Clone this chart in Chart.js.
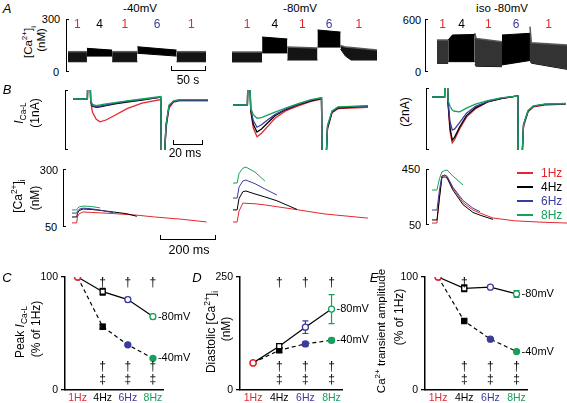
<!DOCTYPE html>
<html>
<head>
<meta charset="utf-8">
<script src="https://cdn.jsdelivr.net/npm/chart.js@4.4.1/dist/chart.umd.min.js"></script>
<style>
  body { margin: 0; width: 567px; height: 403px; position: relative; overflow: hidden; background: #fff;
         font-family: 'Liberation Sans', Arial, sans-serif; }
  canvas { position: absolute; }
  .t { position: absolute; white-space: nowrap; line-height: 1; color: #000; }
  .t sup, .t sub { font-size: 70%; line-height: 0; }
  .br { position: absolute; border: 1.4px solid #000; border-right: none; width: 3px; box-sizing: border-box; }
  .sb { position: absolute; border: 1.2px solid #000; border-top: none; height: 5px; box-sizing: border-box; }
  .lg { position: absolute; height: 2px; width: 16px; }
</style>
</head>
<body>
<script>
// colours used for pacing rates
const RED = '#e3272c', BLACK = '#000', BLUE = '#3b3b9d', GREEN = '#17a05b';
const rateColor = { 1: RED, 4: BLACK, 6: BLUE, 8: GREEN };
const FONT = "'Liberation Sans', Arial, sans-serif";

// ---- A: [Ca2+]i during pacing trains (one entry per segment, nM) ----
const a40Rate = [1, 4, 1, 6, 1];
const a40Time = [[0, 27], [27, 63], [63, 99], [99, 155], [155, 197]];
const a40Sys = [[115, 115], [134, 124], [115, 115], [143, 124], [115, 115]];
const a40Dia = [[58, 58], [90, 90], [58, 58], [106, 90], [58, 58]];

const a80Rate = [1, 4, 1, 6, 1];
const a80Time = [[0, 43], [43, 79], [79, 122], [122, 155], [155, 162, 170, 207]];
const a80Sys = [[113, 113], [198, 187], [141, 136], [238, 226], [150, 141, 138, 124]];
const a80Dia = [[57, 57], [108, 108], [68, 68], [141, 141], [130, 90, 68, 68]];

const aIsoRate = [1, 4, 1, 6, 1];
const aIsoTime = [[0, 16], [16, 22, 54], [54, 56, 93], [93, 133], [133, 135, 186]];
const aIsoSys = [[362, 362], [362, 419, 425], [440, 380, 343], [419, 438], [513, 330, 306]];
const aIsoDia = [[98, 98], [117, 117, 117], [79, 65, 60], [80, 130], [136, 100, 30]];

// ---- B: L-type Ca current (nA) ----
const cur40Time = [0, 9.6, 10, 11.2, 11.8, 13, 15.5, 18, 22, 28, 36, 46, 58.5, 59, 60.5, 62, 64, 67, 71, 90];
const cur40Hz1 = [0, 0, 0.5, 0.5, -0.05, -0.22, -0.34, -0.38, -0.35, -0.27, -0.16, -0.07, -0.01, -1.2, -1.2, -0.5, -0.15, -0.05, -0.03, -0.03];
const cur40Hz4 = [0, 0, 0.5, 0.5, -0.04, -0.12, -0.14, -0.13, -0.11, -0.08, -0.05, -0.02, 0.03, -1.2, -1.2, -0.45, -0.12, -0.04, -0.02, -0.02];
const cur40Hz6 = [0, 0, 0.5, 0.5, -0.04, -0.11, -0.13, -0.12, -0.1, -0.07, -0.04, -0.01, 0.03, -1.2, -1.2, -0.45, -0.12, -0.04, -0.02, -0.02];
const cur40Hz8 = [0, 0, 0.5, 0.5, -0.03, -0.09, -0.11, -0.1, -0.08, -0.06, -0.03, 0, 0.04, -1.2, -1.2, -0.42, -0.1, -0.03, -0.01, -0.01];

const cur80Time = [0, 9.6, 10, 11.2, 11.8, 13.5, 16, 19, 23, 28, 35, 43, 52, 59, 59.5, 61.5, 63, 66, 70, 90];
const cur80Hz1 = [0, 0, 0.5, 0.5, -0.1, -0.38, -0.53, -0.47, -0.36, -0.22, -0.1, -0.02, 0.06, 0.1, -1.2, -1.2, -0.4, -0.13, -0.06, -0.04];
const cur80Hz4 = [0, 0, 0.5, 0.5, -0.08, -0.32, -0.45, -0.4, -0.3, -0.18, -0.08, 0, 0.07, 0.11, -1.2, -1.2, -0.38, -0.12, -0.05, -0.02];
const cur80Hz6 = [0, 0, 0.5, 0.5, -0.07, -0.26, -0.37, -0.33, -0.25, -0.16, -0.07, 0.01, 0.08, 0.12, -1.2, -1.2, -0.36, -0.11, -0.04, -0.02];
const cur80Hz8 = [0, 0, 0.5, 0.5, -0.05, -0.16, -0.22, -0.21, -0.17, -0.12, -0.05, 0.02, 0.09, 0.12, -1.2, -1.2, -0.34, -0.1, -0.03, -0.01];

const curIsoTime = [0, 8.4, 8.7, 10, 10.7, 12, 13.5, 15, 18.5, 23, 29, 37, 46, 55, 57.2, 57.6, 59.5, 61, 64, 67.5, 75, 89];
const curIsoHz1 = [0, 0, 1, 1, -0.2, -1.1, -1.48, -1.38, -1.02, -0.65, -0.38, -0.16, -0.05, 0.02, 0.03, -2.5, -2.5, -0.95, -0.48, -0.32, -0.26, -0.23];
const curIsoHz4 = [0, 0, 1, 1, -0.2, -1.0, -1.39, -1.3, -0.96, -0.6, -0.35, -0.16, -0.05, 0.02, 0.03, -2.5, -2.5, -0.9, -0.46, -0.3, -0.24, -0.22];
const curIsoHz6 = [0, 0, 1, 1, -0.15, -0.8, -1.06, -1.04, -0.82, -0.52, -0.3, -0.15, -0.04, 0.02, 0.03, -2.5, -2.5, -0.9, -0.45, -0.3, -0.24, -0.22];
const curIsoHz8 = [0, 0, 1, 1, -0.1, -0.3, -0.42, -0.46, -0.48, -0.36, -0.23, -0.12, -0.03, 0.02, 0.03, -2.5, -2.5, -0.88, -0.44, -0.29, -0.23, -0.21];

// ---- B: Ca2+ transients (nM), shorter arrays stop earlier ----
const ca40Time = [0, 17, 20, 26, 40, 70, 102, 150, 200, 236, 300, 400, 490];
const ca40Hz1 = [68, 68, 95, 108, 116, 114, 112, 109, 105, 102, 94, 84, 72];
const ca40Hz4 = [94, 94, 110, 122, 129, 127, 123, 116, 108, 97];
const ca40Hz6 = [111, 111, 120, 128, 133, 130, 124, 113];
const ca40Hz8 = [125, 125, 132, 138, 142, 140, 134];

const ca80Time = [0, 15, 22, 36, 47, 80, 116, 160, 233, 335, 491];
const ca80Hz1 = [72, 72, 120, 155, 154, 152, 147, 139, 126, 107, 89];
const ca80Hz4 = [125, 125, 175, 205, 208, 195, 182, 165, 127];
const ca80Hz6 = [177, 177, 225, 252, 256, 240, 217, 190];
const ca80Hz8 = [243, 243, 285, 308, 313, 291, 252];

const caIsoTime = [0, 18, 27, 36, 47, 55, 76, 113, 149, 175, 222, 300, 400, 491];
const caIsoHz1 = [64, 64, 250, 400, 407, 395, 314, 210, 157, 135, 100, 80, 70, 64];
const caIsoHz4 = [86, 86, 240, 390, 395, 385, 300, 195, 140, 120, 90];
const caIsoHz6 = [157, 157, 300, 400, 407, 398, 320, 225, 170, 145];
const caIsoHz8 = [300, 300, 380, 430, 440, 443, 400, 336];

// ---- C, D, E: summary (mean, s.e.m.) ----
const freqLabels = ['1Hz', '4Hz', '6Hz', '8Hz'];
const freqColors = [RED, BLACK, BLUE, GREEN];
const peakICa80 = [100, 87, 80, 65];
const peakICa80Err = [0, 3, 2, 2];
const peakICa40 = [100, 56, 40, 28];
const peakICa40Err = [0, 2, 1, 1];
const diaCa80 = [60, 97, 139, 179];
const diaCa80Err = [0, 5, 14, 32];
const diaCa40 = [60, 88, 102, 110];
const diaCa40Err = [0, 5, 5, 5];
const ampCa80 = [100, 90, 91, 85];
const ampCa80Err = [0, 3, 1, 3];
const ampCa40 = [100, 61, 45, 34];
const ampCa40Err = [0, 1, 1, 1];

// ---------- helpers ----------
function addText(html, x, y, opt = {}) {
  const d = document.createElement('div');
  d.className = 't';
  d.innerHTML = html;
  d.style.left = x + 'px';
  d.style.top = y + 'px';
  d.style.fontSize = (opt.size || 12) + 'px';
  if (opt.color) d.style.color = opt.color;
  if (opt.italic) d.style.fontStyle = 'italic';
  d.style.transform = 'translate(-50%,-50%)' + (opt.rot ? ' rotate(-90deg)' : '');
  document.body.appendChild(d);
}

function bracket(x, y1, y2) {
  const d = document.createElement('div');
  d.className = 'br';
  Object.assign(d.style, { left: x + 'px', top: y1 + 'px', height: (y2 - y1) + 'px' });
  document.body.appendChild(d);
}

function scaleBar(x1, x2, y) {
  const d = document.createElement('div');
  d.className = 'sb';
  Object.assign(d.style, { left: x1 + 'px', top: (y - 5) + 'px', width: (x2 - x1) + 'px' });
  document.body.appendChild(d);
}

function makeCanvas(x, y, w, h) {
  const c = document.createElement('canvas');
  c.width = w; c.height = h;
  Object.assign(c.style, { left: x + 'px', top: y + 'px', width: w + 'px', height: h + 'px' });
  document.body.appendChild(c);
  return c;
}

const baseOpts = (xMax, yMin, yMax) => ({
  responsive: false,
  animation: false,
  devicePixelRatio: 1,
  layout: { padding: 0 },
  plugins: { legend: { display: false }, tooltip: { enabled: false } },
  elements: { point: { radius: 0 }, line: { tension: 0 } },
  scales: {
    x: { type: 'linear', min: 0, max: xMax, display: false },
    y: { type: 'linear', min: yMin, max: yMax, display: false }
  }
});

// pacing-train chart: a filled band per segment (diastolic to systolic), rate number above it.
function trainChart(box, xMax, yMax, rates, times, sys, dia, oneHzFill) {
  const canvas = makeCanvas(...box);
  const datasets = [];
  const line = (vals, i) => times[i].map((t, k) => ({ x: t, y: vals[k] }));
  rates.forEach((r, i) => {
    datasets.push({
      data: line(sys[i], i),
      borderColor: r === 1 ? '#5a5a5a' : '#000', borderWidth: r === 1 ? 1.5 : 1,
      backgroundColor: r === 1 ? oneHzFill : '#000', fill: '+1'
    });
    datasets.push({ data: line(dia[i], i), borderColor: '#000', borderWidth: 1, fill: false });
  });
  const rateLabels = {
    id: 'rateLabels',
    afterDraw(chart) {
      const c = chart.ctx, xs = chart.scales.x;
      c.save();
      c.font = '12px ' + FONT;
      c.textAlign = 'center';
      c.textBaseline = 'middle';
      rates.forEach((r, i) => {
        const t = times[i];
        c.fillStyle = rateColor[r];
        c.fillText(String(r), xs.getPixelForValue((t[0] + t[t.length - 1]) / 2), chart.chartArea.top + 6);
      });
      c.restore();
    }
  };
  return new Chart(canvas, { type: 'line', data: { datasets }, options: baseOpts(xMax, 0, yMax), plugins: [rateLabels] });
}

// overlaid traces, green drawn on top
function traceChart(box, xMax, yMin, yMax, time, series, width) {
  const datasets = series.map(([vals, color]) => ({
    data: vals.map((v, k) => ({ x: time[k], y: v })),
    borderColor: color, borderWidth: width, fill: false
  }));
  return new Chart(makeCanvas(...box), { type: 'line', data: { datasets }, options: baseOpts(xMax, yMin, yMax) });
}

// error bars drawn under the markers
const errorBars = {
  id: 'errorBars',
  beforeDatasetsDraw(chart) {
    const c = chart.ctx, ys = chart.scales.y;
    chart.data.datasets.forEach((ds, i) => {
      const meta = chart.getDatasetMeta(i);
      meta.data.forEach((pt, j) => {
        const e = ds.err[j];
        if (!e) return;
        const v = ds.data[j].y;
        const y1 = ys.getPixelForValue(v + e), y2 = ys.getPixelForValue(v - e);
        c.save();
        c.strokeStyle = freqColors[j];
        c.lineWidth = 1.2;
        c.beginPath();
        c.moveTo(pt.x, y1); c.lineTo(pt.x, y2);
        c.moveTo(pt.x - 3, y1); c.lineTo(pt.x + 3, y1);
        c.moveTo(pt.x - 3, y2); c.lineTo(pt.x + 3, y2);
        c.stroke();
        c.restore();
      });
    });
  }
};

function summaryMarks(topIdx, botIdx) {
  return {
    id: 'summaryMarks',
    afterDraw(chart) {
      const c = chart.ctx, xs = chart.scales.x, area = chart.chartArea;
      c.save();
      c.fillStyle = '#000';
      c.font = '12px ' + FONT;
      c.textAlign = 'center';
      c.textBaseline = 'middle';
      topIdx.forEach(i => c.fillText('\u2020', xs.getPixelForValue(i), area.top + 6));
      botIdx.forEach(i => {
        c.fillText('\u2020', xs.getPixelForValue(i), area.bottom - 23);
        c.fillText('\u2021', xs.getPixelForValue(i), area.bottom - 10);
      });
      c.font = '11px ' + FONT;
      c.textAlign = 'left';
      chart.data.datasets.forEach((ds, i) => {
        const pts = chart.getDatasetMeta(i).data;
        const last = pts[pts.length - 1];
        c.fillText(ds.label, last.x + 5, last.y);
      });
      c.restore();
    }
  };
}

function summaryChart(box, yWidth, padRight, yMax, s80, e80, s40, e40, styles, topIdx, botIdx) {
  const canvas = makeCanvas(...box);
  const pt = (arr) => arr.map((v, i) => ({ x: i, y: v }));
  const radii = styles.map(s => s === 'rect' ? 3.6 : 3);
  return new Chart(canvas, {
    type: 'line',
    data: {
      datasets: [
        { label: '-80mV', data: pt(s80), err: e80, borderColor: '#000', borderWidth: 1.2,
          pointStyle: ['circle', styles[1], 'circle', 'circle'], pointRadius: radii, pointBorderWidth: 1.3,
          pointBorderColor: freqColors, pointBackgroundColor: '#fff' },
        { label: '-40mV', data: pt(s40), err: e40, borderColor: '#000', borderWidth: 1.2, borderDash: [4, 3],
          pointStyle: styles, pointRadius: radii, pointBorderWidth: 1.3,
          pointBorderColor: freqColors, pointBackgroundColor: ['#fff', BLACK, BLUE, GREEN] }
      ]
    },
    options: {
      responsive: false,
      animation: false,
      devicePixelRatio: 1,
      layout: { padding: { top: 15, right: padRight, left: 0, bottom: 0 } },
      plugins: { legend: { display: false }, tooltip: { enabled: false } },
      elements: { line: { tension: 0 } },
      scales: {
        x: {
          type: 'linear', min: -0.5, max: 3.4,
          afterBuildTicks: s => { s.ticks = freqLabels.map((_, i) => ({ value: i })); },
          afterFit: s => { s.height = 13; },
          grid: { display: false, drawTicks: false },
          border: { display: true, color: '#000', width: 1.5 },
          ticks: { padding: 2, autoSkip: false, maxRotation: 0, font: { size: 10.5, family: FONT },
                   color: c => freqColors[c.index], callback: v => freqLabels[v] }
        },
        y: {
          type: 'linear', min: 0, max: yMax,
          afterBuildTicks: s => { s.ticks = [{ value: 0 }, { value: yMax }]; },
          afterFit: s => { s.width = yWidth; },
          grid: { display: true, drawOnChartArea: false, drawTicks: true, tickLength: 4, color: '#000', lineWidth: 1.3 },
          border: { display: true, color: '#000', width: 1.5 },
          ticks: { padding: 3, font: { size: 10.5, family: FONT }, color: '#000' }
        }
      }
    },
    plugins: [errorBars, summaryMarks(topIdx, botIdx)]
  });
}

// ---------- A ----------
trainChart([68, 19, 138, 53], 197, 300, a40Rate, a40Time, a40Sys, a40Dia, '#141414');
trainChart([232, 19, 145, 53], 207, 300, a80Rate, a80Time, a80Sys, a80Dia, '#141414');
trainChart([437, 19, 130, 53], 186, 600, aIsoRate, aIsoTime, aIsoSys, aIsoDia, '#333333');

// ---------- B: currents ----------
traceChart([73, 90, 135, 60], 90, -0.85, 0.15, cur40Time,
  [[cur40Hz8, GREEN], [cur40Hz6, BLUE], [cur40Hz4, BLACK], [cur40Hz1, RED]], 1.3);
traceChart([233, 90, 135, 60], 90, -0.75, 0.25, cur80Time,
  [[cur80Hz8, GREEN], [cur80Hz6, BLUE], [cur80Hz4, BLACK], [cur80Hz1, RED]], 1.3);
traceChart([432, 88, 134, 62], 89.3, -1.71, 0.29, curIsoTime,
  [[curIsoHz8, GREEN], [curIsoHz6, BLUE], [curIsoHz4, BLACK], [curIsoHz1, RED]], 1.3);

// ---------- B: Ca transients ----------
traceChart([72, 160, 136, 67], 495, 50, 344, ca40Time,
  [[ca40Hz8, GREEN], [ca40Hz6, BLUE], [ca40Hz4, BLACK], [ca40Hz1, RED]], 1);
traceChart([233, 160, 136, 67], 495, 50, 344, ca80Time,
  [[ca80Hz8, GREEN], [ca80Hz6, BLUE], [ca80Hz4, BLACK], [ca80Hz1, RED]], 1);
traceChart([432, 165, 135, 60], 491, 50, 479, caIsoTime,
  [[caIsoHz8, GREEN], [caIsoHz6, BLUE], [caIsoHz4, BLACK], [caIsoHz1, RED]], 1);

// ---------- C, D, E ----------
summaryChart([0, 262, 200, 141], 65, 37, 100, peakICa80, peakICa80Err, peakICa40, peakICa40Err,
  ['circle', 'rect', 'circle', 'circle'], [1, 2, 3], [1, 2, 3]);
summaryChart([180, 262, 200, 141], 60, 38, 250, diaCa80, diaCa80Err, diaCa40, diaCa40Err,
  ['circle', 'rect', 'circle', 'circle'], [1, 2, 3], [1, 2, 3]);
summaryChart([370, 262, 197, 141], 55, 40, 100, ampCa80, ampCa80Err, ampCa40, ampCa40Err,
  ['circle', 'rect', 'circle', 'circle'], [1], [1, 2, 3]);

// ---------- annotations ----------
const CA = '[Ca<sup>2+</sup>]<sub>i</sub>';
addText('A', 7, 8, { size: 13, italic: true });
addText('-40mV', 140, 9, { size: 11.5 });
addText('-80mV', 300, 9, { size: 11.5 });
addText('iso -80mV', 502, 9, { size: 11.5 });
addText('300', 51, 19, { size: 11 });
addText('0', 56, 72, { size: 11 });
addText('600', 412, 20, { size: 11 });
addText('0', 418, 72, { size: 11 });
addText(CA, 29, 42, { size: 11.5, rot: true });
addText('(nM)', 42, 40, { size: 11.5, rot: true });
bracket(66, 19, 72);
bracket(425, 19, 72);
scaleBar(171, 206, 71);
addText('50 s', 188, 80, { size: 12 });

addText('B', 7, 89, { size: 13, italic: true });
addText('<i>I</i><sub>Ca-L</sub>', 19, 113, { size: 12, rot: true });
addText('(1nA)', 35, 113, { size: 12, rot: true });
addText('(2nA)', 405, 112, { size: 12, rot: true });
bracket(65, 90, 150);
bracket(426, 88, 150);
scaleBar(173, 203, 145);
addText('20 ms', 185, 153, { size: 12 });
addText('300', 49, 170, { size: 11 });
addText('50', 51, 227, { size: 11 });
addText('450', 411, 169, { size: 11 });
addText('50', 415, 225, { size: 11 });
bracket(63, 169, 227);
bracket(426, 169, 225);
addText(CA, 18, 196, { size: 12, rot: true });
addText('(nM)', 35, 198, { size: 12, rot: true });
scaleBar(160, 216, 240);
addText('200 ms', 189, 250, { size: 12.5 });

// legend for B
[1, 4, 6, 8].forEach((r, i) => {
  const y = 173 + i * 14;
  const l = document.createElement('div');
  l.className = 'lg';
  Object.assign(l.style, { left: '517px', top: (y - 1) + 'px', background: rateColor[r] });
  document.body.appendChild(l);
  const d = document.createElement('div');
  d.className = 't';
  d.textContent = r + 'Hz';
  Object.assign(d.style, { left: '541px', top: (y - 6) + 'px', fontSize: '12px', color: rateColor[r] });
  document.body.appendChild(d);
});

addText('C', 7, 277, { size: 13, italic: true });
addText('Peak <i>I</i><sub>Ca-L</sub>', 20, 332, { size: 12, rot: true });
addText('(% of 1Hz)', 36, 329, { size: 12, rot: true });
addText('D', 197, 277, { size: 13, italic: true });
addText('Diastolic ' + CA, 211, 332, { size: 12, rot: true });
addText('(nM)', 226, 329, { size: 12, rot: true });
addText('E', 374, 277, { size: 13, italic: true });
addText('Ca<sup>2+</sup> transient amplitude', 382, 331, { size: 11.5, rot: true });
addText('(% of 1Hz)', 399, 317, { size: 12, rot: true });
</script>
</body>
</html>
